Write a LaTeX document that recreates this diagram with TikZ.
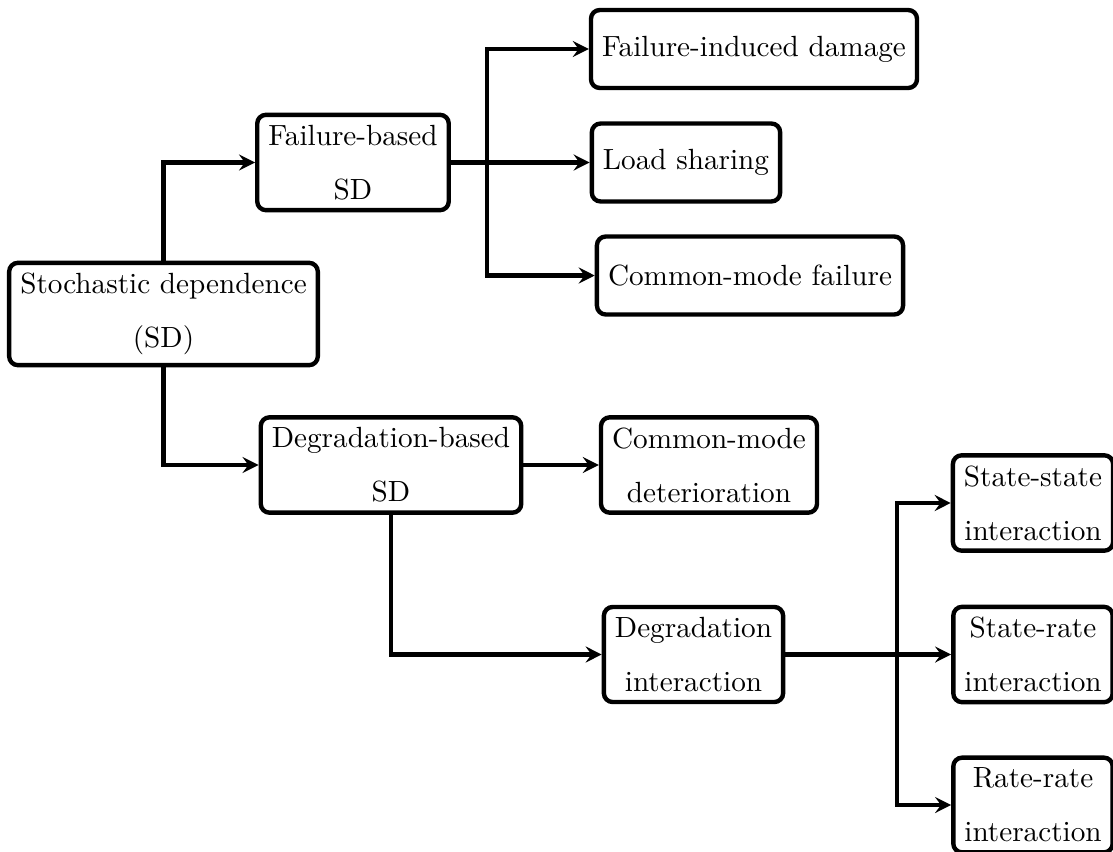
\documentclass[tikz,border=0pt]{standalone}
\usetikzlibrary{arrows.meta}
\begin{document}
\begin{tikzpicture}[x=0.3425pt,y=-0.3425pt,
  box/.style={draw,line width=1.5pt,rounded corners=3pt,align=center,
    inner xsep=3.8pt,inner ysep=3.5pt,minimum height=26.7pt,
    font=\fontsize{10}{18.5}\selectfont},
  link/.style={line width=1.4pt,-{Stealth[length=5.5pt,width=5.5pt,inset=2pt]}}]
\useasboundingbox (0,0) rectangle (1113,852);

% classification tree
\node[box] (sd)  at (163.5,314)  {Stochastic dependence\\(SD)};
\node[box] (fb)  at (353,162.5)  {Failure-based\\SD};
\node[box] (db)  at (391,465)    {Degradation-based\\SD};
\node[box] (fid) at (754,49)     {Failure-induced damage};
\node[box] (ls)  at (686,162.5)  {Load sharing};
\node[box] (cmf) at (750,275.5)  {Common-mode failure};
\node[box] (cmd) at (709,465)    {Common-mode\\deterioration};
\node[box] (di)  at (693.5,654.5){Degradation\\interaction};
\node[box] (ss)  at (1033,503)   {State-state\\interaction};
\node[box] (sr)  at (1033,654.5) {State-rate\\interaction};
\node[box] (rr)  at (1033,805)   {Rate-rate\\interaction};

% branch points
\coordinate (fbj) at (487,162.5);
\coordinate (dij) at (897,654.5);

\draw[link] (sd.north) |- (fb.west);
\draw[link] (sd.south) |- (db.west);

\draw[link] (fb.east) -- (ls.west);
\draw[link] (fbj) |- (fid.west);
\draw[link] (fbj) |- (cmf.west);

\draw[link] (db.east) -- (cmd.west);
\draw[link] (db.south) |- (di.west);

\draw[link] (di.east) -- (sr.west);
\draw[link] (dij) |- (ss.west);
\draw[link] (dij) |- (rr.west);
\end{tikzpicture}
\end{document}
